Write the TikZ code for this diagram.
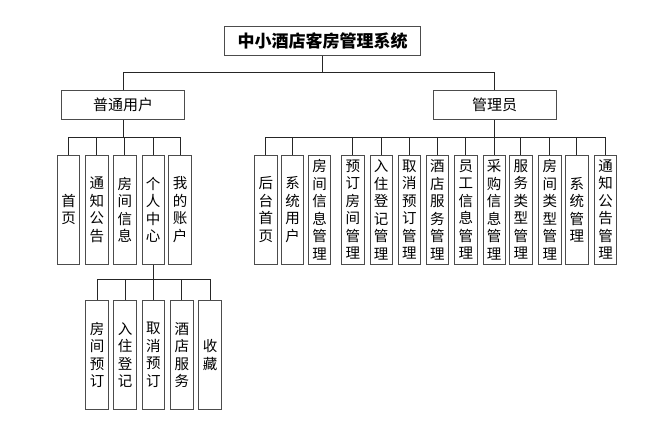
\documentclass[tikz,border=0pt]{standalone}
\usepackage{fontspec}
\setmainfont{Noto Sans CJK SC}
\begin{document}
\begin{tikzpicture}[x=1pt,y=-1pt,
  box/.style={draw=black!70,line width=0.9pt,inner sep=0pt,align=center},
  topbox/.style={box,minimum width=196pt,minimum height=28.3pt,font=\fontsize{17}{20}\selectfont\bfseries},
  midbox/.style={box,minimum width=122.6pt,minimum height=28.6pt,font=\fontsize{15}{18}\selectfont},
  leaf/.style={box,minimum width=22.3pt,minimum height=109.3pt,font=\fontsize{14.5}{17.5}\selectfont},
  conn/.style={draw=black!85,line width=0.8pt}]
\useasboundingbox (0,0) rectangle (659,421);
\node[topbox] (root) at (322.5,41) {中小酒店客房管理系统};
\node[midbox] (user) at (123,105) {普通用户};
\node[midbox] (admin) at (494.7,105) {管理员};
% user leaves
\node[leaf] (u1) at (68.5,209.7) {首\\页};
\node[leaf] (u2) at (96.8,209.7) {通\\知\\公\\告};
\node[leaf] (u3) at (124.8,209.7) {房\\间\\信\\息};
\node[leaf] (u4) at (153.2,209.7) {个\\人\\中\\心};
\node[leaf] (u5) at (180,209.7) {我\\的\\账\\户};
% sub leaves
\node[leaf,minimum height=108.6pt] (s1) at (97,355) {房\\间\\预\\订};
\node[leaf,minimum height=108.6pt] (s2) at (125,355) {入\\住\\登\\记};
\node[leaf,minimum height=108.6pt] (s3) at (153.3,355) {取\\消\\预\\订};
\node[leaf,minimum height=108.6pt] (s4) at (181.8,355) {酒\\店\\服\\务};
\node[leaf,minimum height=108.6pt] (s5) at (210,355) {收\\藏};
% admin leaves
\node[leaf] (a1) at (265.8,209.7) {后\\台\\首\\页};
\node[leaf] (a2) at (292.5,209.7) {系\\统\\用\\户};
\node[leaf] (a3) at (319.7,209.7) {房\\间\\信\\息\\管\\理};
\node[leaf] (a4) at (352.8,209.7) {预\\订\\房\\间\\管\\理};
\node[leaf] (a5) at (381.2,209.7) {入\\住\\登\\记\\管\\理};
\node[leaf] (a6) at (409.3,209.7) {取\\消\\预\\订\\管\\理};
\node[leaf] (a7) at (437.3,209.7) {酒\\店\\服\\务\\管\\理};
\node[leaf] (a8) at (465.8,209.7) {员\\工\\信\\息\\管\\理};
\node[leaf] (a9) at (494.2,209.7) {采\\购\\信\\息\\管\\理};
\node[leaf] (a10) at (520.8,209.7) {服\\务\\类\\型\\管\\理};
\node[leaf] (a11) at (549.8,209.7) {房\\间\\类\\型\\管\\理};
\node[leaf] (a12) at (576.8,209.7) {系\\统\\管\\理};
\node[leaf] (a13) at (605.5,209.7) {通\\知\\公\\告\\管\\理};
% connectors
\draw[conn] (root.south) -- (root.south |- 0,72.3) coordinate (b0);
\draw[conn] (b0) -| (user.north);
\draw[conn] (b0) -| (admin.north);
\draw[conn] (user.south) -- (user.south |- 0,137.3) coordinate (b1);
\foreach \c in {u1,u2,u3,u4,u5} \draw[conn] (b1) -| (\c.north);
\draw[conn] (admin.south) -- (admin.south |- 0,137.3) coordinate (b2);
\foreach \c in {a1,a2,a4,a5,a6,a7,a8,a9,a10,a11,a12,a13} \draw[conn] (b2) -| (\c.north);
\draw[conn] (u4.south) -- (u4.south |- 0,279.3) coordinate (b3);
\foreach \c in {s1,s2,s3,s4,s5} \draw[conn] (b3) -| (\c.north);
\end{tikzpicture}
\end{document}
